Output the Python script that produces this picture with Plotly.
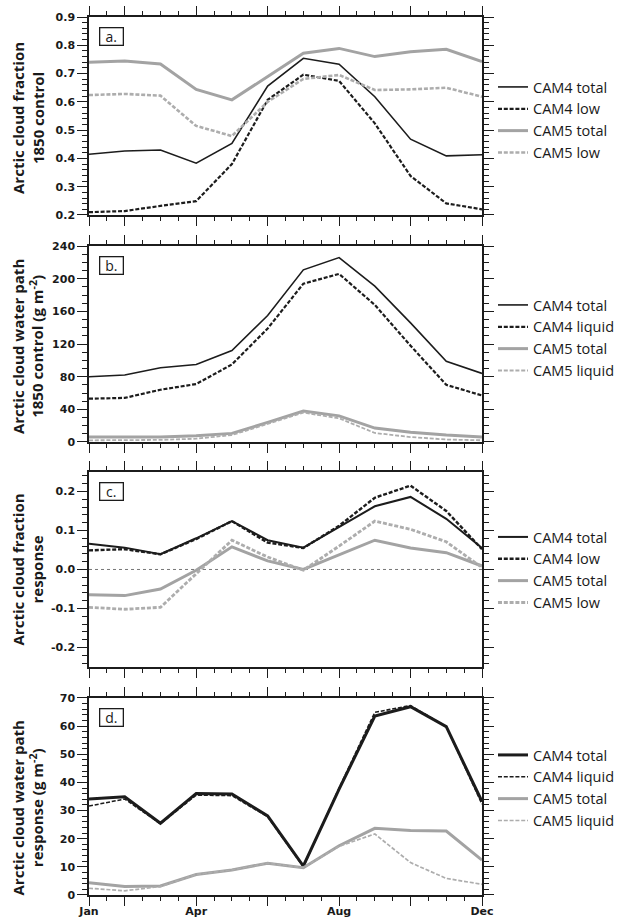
import plotly.graph_objects as go

months = ["Jan", "Feb", "Mar", "Apr", "May", "Jun", "Jul", "Aug", "Sep", "Oct", "Nov", "Dec"]
month_pos = list(range(1, 13))
major_months = [1, 2, 4, 6, 8, 10, 12]
label_months = [1, 4, 8, 12]
label_text = [months[m - 1] for m in label_months]

# Panel a: cloud fraction, 1850 control
a_cam4_total = [0.415, 0.426, 0.43, 0.383, 0.453, 0.656, 0.754, 0.733, 0.618, 0.468, 0.409, 0.413]
a_cam4_low = [0.21, 0.214, 0.232, 0.249, 0.38, 0.607, 0.696, 0.674, 0.524, 0.338, 0.241, 0.22]
a_cam5_total = [0.74, 0.744, 0.734, 0.644, 0.607, 0.689, 0.772, 0.789, 0.76, 0.777, 0.786, 0.742]
a_cam5_low = [0.624, 0.628, 0.622, 0.515, 0.479, 0.60, 0.681, 0.695, 0.642, 0.644, 0.65, 0.618]

# Panel b: cloud water path, 1850 control
b_cam4_total = [80, 82, 91, 95, 112, 155, 211, 226, 191, 146, 99, 84]
b_cam4_liquid = [53, 54, 64, 71, 95, 139, 194, 206, 168, 118, 70, 57]
b_cam5_total = [6, 6, 6, 7.5, 10.5, 24, 38, 32, 17, 12, 8.5, 6]
b_cam5_liquid = [2, 2, 2.5, 4, 8.5, 22, 36, 29, 11, 6, 3, 2]

# Panel c: cloud fraction response
c_cam4_total = [0.066, 0.056, 0.039, 0.08, 0.124, 0.075, 0.056, 0.11, 0.162, 0.186, 0.13, 0.055]
c_cam4_low = [0.049, 0.052, 0.039, 0.078, 0.124, 0.069, 0.055, 0.112, 0.184, 0.215, 0.15, 0.052]
c_cam5_total = [-0.065, -0.067, -0.05, -0.002, 0.058, 0.022, 0.0, 0.037, 0.075, 0.055, 0.043, 0.009]
c_cam5_low = [-0.097, -0.102, -0.097, -0.01, 0.075, 0.032, -0.002, 0.06, 0.124, 0.103, 0.071, 0.005]
c_tickvals = [-0.2, -0.1, 0.0, 0.1, 0.2]
c_ticktext = ["-0.2", "-0.1", "0.0", "0.1", "0.2"]

# Panel d: cloud water path response
d_cam4_total = [34.1, 34.9, 25.5, 36.1, 35.9, 28.1, 10.3, 37.6, 63.6, 66.9, 59.8, 33.2]
d_cam4_liquid = [31.6, 34.1, 25.3, 35.5, 35.3, 27.8, 10.0, 38.0, 64.9, 67.3, 59.8, 32.3]
d_cam5_total = [4.4, 3.0, 3.2, 7.3, 8.9, 11.3, 9.7, 17.5, 23.7, 22.9, 22.7, 12.4]
d_cam5_liquid = [2.4, 1.5, 3.0, 7.3, 8.9, 11.3, 9.7, 17.3, 21.7, 11.5, 5.9, 3.8]

BLACK = "#1c1c1c"
GRAY = "#a3a3a3"
LGRAY = "#adadad"
DASH = "4px,1.8px"

panels = [
    dict(series=[("CAM4 total", a_cam4_total, BLACK, "solid", 1.6),
                 ("CAM4 low", a_cam4_low, BLACK, DASH, 2.2),
                 ("CAM5 total", a_cam5_total, GRAY, "solid", 3.0),
                 ("CAM5 low", a_cam5_low, LGRAY, DASH, 2.6)],
         label="a.", title="Arctic cloud fraction<br>1850 control",
         yrange=[0.2, 0.9], dtick=0.1, minor=0.02, tick0=0.2, fmt=".1f",
         dom=[0.7745, 1.0], legy=120, tshift=-2),
    dict(series=[("CAM4 total", b_cam4_total, BLACK, "solid", 1.6),
                 ("CAM4 liquid", b_cam4_liquid, BLACK, DASH, 2.2),
                 ("CAM5 total", b_cam5_total, GRAY, "solid", 3.0),
                 ("CAM5 liquid", b_cam5_liquid, LGRAY, DASH, 1.8)],
         label="b.", title="Arctic cloud water path<br>1850 control (g m<sup>-2</sup>)",
         yrange=[0, 240], dtick=40, minor=10, tick0=0, fmt="d",
         dom=[0.516, 0.739], legy=338, tshift=-3),
    dict(series=[("CAM4 total", c_cam4_total, BLACK, "solid", 2.0),
                 ("CAM4 low", c_cam4_low, BLACK, DASH, 2.4),
                 ("CAM5 total", c_cam5_total, GRAY, "solid", 3.0),
                 ("CAM5 low", c_cam5_low, LGRAY, DASH, 2.8)],
         label="c.", title="Arctic cloud fraction<br>response",
         yrange=[-0.25, 0.25], dtick=0.1, minor=0.02, tick0=0, fmt=".1f",
         dom=[0.2597, 0.4818], legy=570, tshift=0),
    dict(series=[("CAM4 total", d_cam4_total, BLACK, "solid", 3.0),
                 ("CAM4 liquid", d_cam4_liquid, BLACK, DASH, 1.6),
                 ("CAM5 total", d_cam5_total, GRAY, "solid", 3.0),
                 ("CAM5 liquid", d_cam5_liquid, LGRAY, DASH, 1.7)],
         label="d.", title="Arctic cloud water path<br>response (g m<sup>-2</sup>)",
         yrange=[0, 70], dtick=10, minor=2, tick0=0, fmt="d",
         dom=[0.0, 0.2244], legy=788, tshift=-12),
]

W, H = 628, 919
MT, MB, ML, MR = 17, 24, 89, 146
PH = H - MT - MB
PW = W - ML - MR

fig = go.Figure()
annotations = []
shapes = []
TICKFONT = dict(family="DejaVu Sans", size=11, color="#1a1a1a", weight="bold")

for i, p in enumerate(panels):
    n = i + 1
    xa = "x" if n == 1 else f"x{n}"
    ya = "y" if n == 1 else f"y{n}"
    leg = "legend" if n == 1 else f"legend{n}"
    for name, vals, col, dash, w in p["series"]:
        fig.add_trace(go.Scatter(x=month_pos, y=vals, name=name, mode="lines",
                                 line=dict(color=col, dash=dash, width=w),
                                 xaxis=xa, yaxis=ya, legend=leg))
    xkey = "xaxis" if n == 1 else f"xaxis{n}"
    ykey = "yaxis" if n == 1 else f"yaxis{n}"
    if p["label"] == "c.":
        yk = dict(tickmode="array", tickvals=c_tickvals, ticktext=c_ticktext)
    else:
        yk = dict(tick0=p["tick0"], dtick=p["dtick"], tickformat=p["fmt"])
    fig.update_layout({
        xkey: dict(domain=[0, 1], anchor=ya, range=[1, 12], showline=True, linecolor=BLACK,
                   linewidth=1.5, mirror="ticks", ticks="outside", ticklen=9, tickwidth=1.3,
                   tickcolor=BLACK, tickmode="array", tickvals=major_months,
                   showticklabels=False, showgrid=False, automargin=False,
                   zeroline=False,
                   minor=dict(tick0=1, dtick=0.5, ticks="outside", ticklen=4.5,
                              tickwidth=1, tickcolor=BLACK, showgrid=False)),
        ykey: dict(domain=p["dom"], anchor=xa, range=p["yrange"], showline=True, linecolor=BLACK,
                   linewidth=1.5, mirror="ticks", ticks="outside", ticklen=10, tickwidth=1.3,
                   tickcolor=BLACK, showgrid=False, zeroline=False, tickfont=TICKFONT,
                   automargin=False,
                   minor=dict(tick0=p["tick0"], dtick=p["minor"], ticks="outside", ticklen=5.5,
                              tickwidth=1, tickcolor=BLACK, showgrid=False), **yk),
        leg: dict(x=(493 - ML) / PW, xanchor="left",
                  y=(H - MB - p["legy"]) / PH, yanchor="middle",
                  font=dict(family="Open Sans", size=14.5, color="#1a1a1a"),
                  bgcolor="rgba(0,0,0,0)", borderwidth=0),
    })
    annotations.append(dict(text=p["label"], xref=f"{xa} domain", yref=f"{ya} domain",
                            x=0.058, y=0.9, xanchor="center", yanchor="middle",
                            showarrow=False, font=dict(family="Open Sans", size=14, color="#1a1a1a"),
                            bordercolor=BLACK, borderwidth=1.3, borderpad=1,
                            width=20, height=14, bgcolor="white"))
    annotations.append(dict(text=p["title"], xref="paper", yref=f"{ya} domain",
                            x=(28 - ML) / PW, y=0.5, xanchor="center",
                            yanchor="middle", textangle=-90, showarrow=False, yshift=p["tshift"],
                            font=dict(family="Open Sans", size=15, color="#1a1a1a", weight="bold")))

# month labels on an overlaying axis below panel d
fig.add_trace(go.Scatter(x=[], y=[], xaxis="x5", yaxis="y4", showlegend=False, hoverinfo="skip"))
fig.update_layout(xaxis5=dict(overlaying="x4", anchor="y4", domain=[0, 1], range=[1, 12], side="bottom",
                              showline=False, ticks="outside", ticklen=6, tickcolor="rgba(0,0,0,0)",
                              tickmode="array", tickvals=label_months, ticktext=label_text,
                              showgrid=False, zeroline=False, automargin=False, tickfont=TICKFONT))

shapes.append(dict(type="line", xref="x3 domain", yref="y3", x0=0, x1=1, y0=0, y1=0,
                   line=dict(color="#777777", width=1, dash="dot"), layer="below"))

fig.update_layout(width=W, height=H, margin=dict(l=ML, r=MR, t=MT, b=MB, autoexpand=False),
                  paper_bgcolor="white", plot_bgcolor="white",
                  annotations=annotations, shapes=shapes, showlegend=True)

fig.write_html("out.html")
